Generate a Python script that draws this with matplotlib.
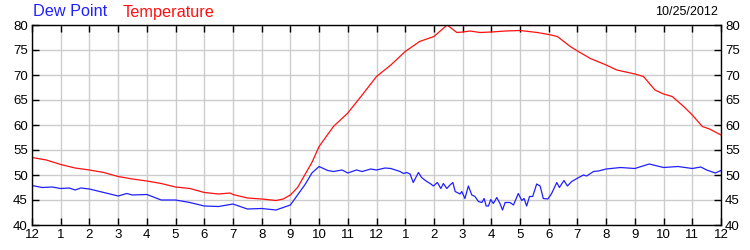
import matplotlib
matplotlib.use("Agg")
import matplotlib.pyplot as plt

# hours since midnight, readings in degrees F
temp_hours = [0, 0.5, 1, 1.5, 2, 2.5, 3, 3.5, 4, 4.5, 5, 5.5, 6, 6.5, 6.9, 7, 7.5, 8, 8.5,
              8.75, 9, 9.25, 9.5, 9.75, 10, 10.5, 11, 11.5, 12, 12.5, 13, 13.5, 14, 14.46,
              14.8, 15, 15.26, 15.6, 16, 16.5, 17, 17.6, 18, 18.3, 18.75, 19, 19.45, 20,
              20.37, 21, 21.3, 21.7, 22, 22.3, 22.7, 23, 23.35, 23.6, 24]
temperature = [53.5, 53.0, 52.1, 51.4, 51.0, 50.5, 49.7, 49.2, 48.8, 48.3, 47.6, 47.3, 46.5,
               46.2, 46.4, 46.1, 45.4, 45.2, 44.9, 45.2, 46.0, 47.5, 50.0, 52.5, 55.7, 59.7,
               62.4, 66.0, 69.7, 72.0, 74.7, 76.7, 77.7, 80.0, 78.5, 78.6, 78.8, 78.5, 78.6,
               78.8, 78.9, 78.5, 78.1, 77.7, 75.7, 74.8, 73.3, 72.0, 71.0, 70.2, 69.7, 67.0,
               66.2, 65.7, 63.7, 62.0, 59.7, 59.2, 58.0]

dew_hours = [0, 0.35, 0.7, 1, 1.3, 1.5, 1.7, 2, 2.5, 3, 3.3, 3.5, 4, 4.5, 5, 5.5, 6, 6.5, 7,
             7.5, 8, 8.5, 8.75, 9, 9.25, 9.5, 9.75, 10, 10.3, 10.5, 10.8, 11, 11.3, 11.5,
             11.8, 12, 12.3, 12.5, 12.82,
             12.94, 13.05, 13.17, 13.28, 13.46, 13.57, 13.75, 13.87, 13.98, 14.12, 14.24,
             14.33, 14.45, 14.56, 14.66, 14.74, 14.91, 14.97, 15.08, 15.2, 15.32, 15.43,
             15.55, 15.67, 15.75, 15.82, 15.9, 15.98, 16.07, 16.19, 16.3, 16.39, 16.48,
             16.65, 16.77, 16.94, 17.06, 17.14, 17.23, 17.33, 17.44, 17.58, 17.7, 17.81,
             17.97, 18.1, 18.28, 18.37, 18.53, 18.65, 18.8, 18.98, 19.21, 19.32, 19.56,
             19.73, 20, 20.5, 21, 21.5, 22, 22.5, 23, 23.3, 23.5, 23.8, 24]
dew_point = [47.9, 47.5, 47.6, 47.3, 47.4, 47.0, 47.4, 47.2, 46.5, 45.8, 46.3, 46.0, 46.1,
             45.0, 45.0, 44.5, 43.8, 43.7, 44.2, 43.2, 43.3, 43.0, 43.5, 44.0, 46.0, 48.0,
             50.4, 51.7, 50.9, 50.7, 51.0, 50.4, 51.0, 50.7, 51.2, 51.0, 51.4, 51.3, 50.7,
             50.3, 50.5, 50.2, 48.5, 50.5, 49.5, 48.7, 48.3, 47.8, 48.5, 47.3,
             48.3, 47.3, 48.0, 48.5, 46.7, 46.2, 46.7, 45.3, 47.8, 46.0, 45.7,
             44.7, 44.5, 45.3, 43.8, 43.8, 45.1, 44.3, 45.5, 44.3, 43.0, 44.5,
             44.5, 44.0, 46.3, 44.9, 45.3, 43.8, 45.7, 45.7, 48.2, 47.8, 45.3,
             45.2, 46.3, 48.5, 47.5, 48.9, 47.8, 48.7, 49.3, 50.0, 49.8, 50.7,
             50.8, 51.2, 51.5, 51.3, 52.2, 51.5, 51.7, 51.3, 51.6, 51.0, 50.4, 50.9]

hour_labels = ["12", "1", "2", "3", "4", "5", "6", "7", "8", "9", "10", "11",
               "12", "1", "2", "3", "4", "5", "6", "7", "8", "9", "10", "11", "12"]
y_ticks = [40, 45, 50, 55, 60, 65, 70, 75, 80]

plt.rcParams['font.family'] = ['Liberation Sans', 'DejaVu Sans']

fig = plt.figure(figsize=(7.5, 2.5), dpi=100)
ax = fig.add_axes([32 / 750, 25 / 250, 689 / 750, 200 / 250])

ax.plot(dew_hours, dew_point, color="#2020ff", lw=0.9)
ax.plot(temp_hours, temperature, color="#ff1010", lw=0.9)

ax.set_xlim(0, 24)
ax.set_ylim(40, 80)
ax.set_xticks(range(25))
ax.set_xticklabels(hour_labels)
ax.set_yticks(y_ticks)
ax.grid(True, color="#cccccc", lw=1)
ax.set_axisbelow(True)
ax.tick_params(direction="in", length=5, width=1, labelsize=9.5,
               top=True, right=True, labelright=True, pad=3)
for s in ax.spines.values():
    s.set_linewidth(1)

fig.text(33 / 750, 1 - 12 / 250, "Dew Point", color="#2020ff", fontsize=11.7, va="center")
fig.text(123 / 750, 1 - 12 / 250, "Temperature", color="#ff1010", fontsize=11.7, va="center")
fig.text(718 / 750, 1 - 12 / 250, "10/25/2012", color="black", fontsize=9, va="center", ha="right")

fig.savefig("out.png", dpi=100)
